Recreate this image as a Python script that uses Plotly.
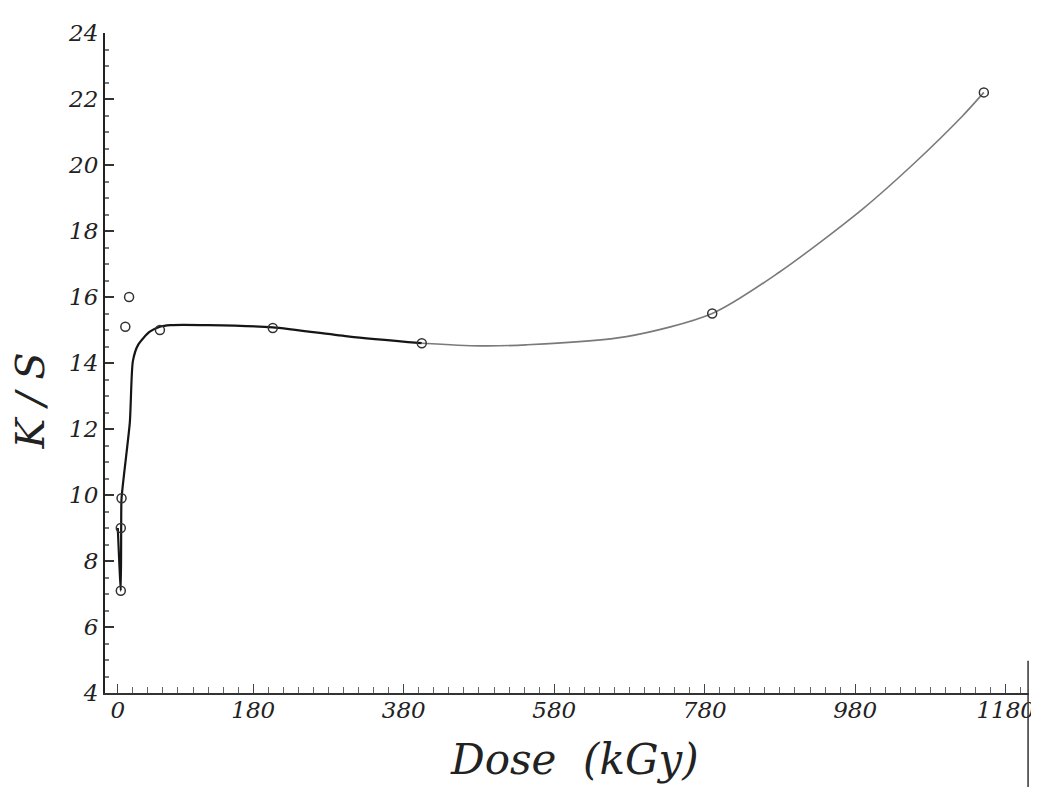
import plotly.graph_objects as go

# Curve path (dose in kGy, K/S)
curve_dark_x = [0, 4, 4.5, 5, 16, 20, 27, 42, 56, 70, 120, 206, 308, 404]
curve_dark_y = [9.0, 7.1, 9.0, 9.9, 12.2, 14.05, 14.55, 14.94, 15.1, 15.15, 15.15, 15.08, 14.8, 14.6]
curve_light_x = [404, 481, 543, 676, 790, 879, 989, 1056, 1122, 1151]
curve_light_y = [14.6, 14.52, 14.55, 14.8, 15.5, 16.75, 18.65, 20.0, 21.47, 22.2]

# Measured points
pts_x = [4, 4, 5, 10, 15, 56, 206, 404, 790, 1151]
pts_y = [9.0, 7.1, 9.9, 15.1, 16.0, 15.0, 15.06, 14.6, 15.5, 22.2]

x_ticks = [0, 180, 380, 580, 780, 980, 1180]
y_ticks = [4, 6, 8, 10, 12, 14, 16, 18, 20, 22, 24]

serif = "DejaVu Serif"

fig = go.Figure()
fig.add_trace(go.Scatter(x=curve_dark_x, y=curve_dark_y, mode="lines",
                         line=dict(color="#151515", width=2.2, shape="spline", smoothing=0.6),
                         hoverinfo="skip", showlegend=False))
fig.add_trace(go.Scatter(x=curve_light_x, y=curve_light_y, mode="lines",
                         line=dict(color="#7a7a7a", width=1.6, shape="spline", smoothing=0.8),
                         hoverinfo="skip", showlegend=False))
fig.add_trace(go.Scatter(x=pts_x, y=pts_y, mode="markers",
                         marker=dict(symbol="circle-open", size=9, color="#333",
                                     line=dict(width=1.5, color="#333")),
                         showlegend=False))

fig.update_layout(
    width=1039, height=787,
    margin=dict(l=97, r=17, t=16, b=102),
    paper_bgcolor="white", plot_bgcolor="white",
    font=dict(family=serif, color="#222"),
    xaxis=dict(range=[-17, 1211], tickmode="array", tickvals=x_ticks,
               ticktext=[str(v) for v in x_ticks],
               showgrid=False, zeroline=False, showline=True, linecolor="#333", linewidth=1.5,
               ticks="inside", ticklen=9, tickcolor="#444", tickwidth=1,
               ticklabelstandoff=-4,
               minor=dict(dtick=20, tick0=0, ticks="inside", ticklen=6, tickcolor="#666", showgrid=False),
               tickfont=dict(family=serif, size=23, style="italic", color="#222")),
    yaxis=dict(range=[4, 24], tickmode="array", tickvals=y_ticks,
               ticktext=[str(v) for v in y_ticks],
               showgrid=False, zeroline=False, showline=True, linecolor="#222", linewidth=2,
               ticks="inside", ticklen=9, tickcolor="#333", tickwidth=1.5,
               minor=dict(dtick=0.5, tick0=4, ticks="inside", ticklen=4, tickcolor="#777", showgrid=False),
               tickfont=dict(family=serif, size=23, style="italic", color="#222")),
    annotations=[
        dict(text="Dose  (kGy)", xref="paper", yref="paper", x=0.508, y=-0.100,
             xanchor="center", yanchor="middle", showarrow=False,
             font=dict(family=serif, size=42, style="italic", color="#222")),
        dict(text="K / S", xref="paper", yref="paper", x=-0.081, y=0.442,
             xanchor="center", yanchor="middle", showarrow=False, textangle=-90,
             font=dict(family=serif, size=40, style="italic", color="#222")),
    ],
    shapes=[
        dict(type="line", xref="paper", yref="paper", x0=0.999, x1=0.999, y0=0.049, y1=-0.15,
             line=dict(color="#333", width=1.5), layer="above"),
    ],
)

fig.write_html("out.html")
